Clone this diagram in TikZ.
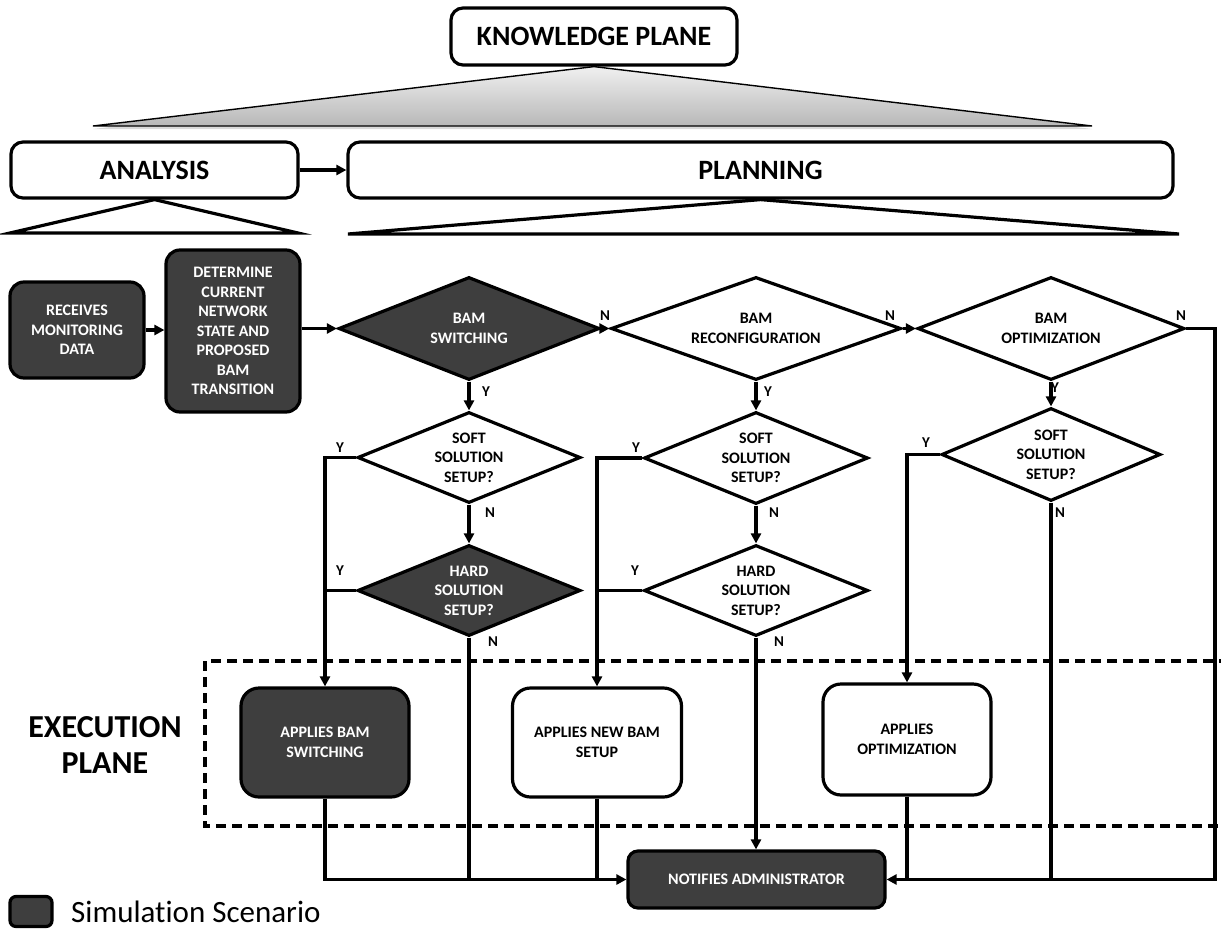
\documentclass[tikz,border=0pt]{standalone}
\usepackage{fontspec}
\setmainfont{Carlito}
\usetikzlibrary{shapes.geometric,arrows.meta,shadows,calc}
\definecolor{darkfill}{HTML}{3E3E3E}
\begin{document}
\begin{tikzpicture}[x=1pt,y=-1pt,
  lw/.style={line width=3.2pt},
  txt/.style={font=\bfseries\fontsize{16}{19.5}\selectfont, align=center},
  box/.style={draw, lw, rounded corners=14pt, rectangle, inner sep=0pt, txt},
  dbox/.style={box, fill=darkfill, text=white},
  dia/.style={draw, lw, diamond, inner sep=0pt},
  ddia/.style={dia, fill=darkfill},
  yn/.style={font=\bfseries\fontsize{15}{15}\selectfont, inner sep=0pt},
  arr/.style={lw, -{Triangle[length=10pt,width=10pt]}},
  con/.style={lw},
  big/.style={font=\bfseries\fontsize{28}{30}\selectfont}
]
\useasboundingbox (0,0) rectangle (1221,929);

% top level
\node[box, big, rounded corners=12pt, minimum width=286pt, minimum height=57pt] (know) at (594,36.5) {KNOWLEDGE PLANE};
\path[draw, line width=1.4pt, top color=black!6, bottom color=black!28,
      drop shadow={opacity=0.3, shadow xshift=0pt, shadow yshift=-3pt}]
  (know.south) -- (1092,126) -- (93,126) -- cycle;

\node[box, big, rounded corners=12pt, minimum width=287pt, minimum height=56pt] (ana) at (154.5,170) {ANALYSIS};
\node[box, big, rounded corners=12pt, minimum width=825pt, minimum height=56pt] (plan) at (760.5,170) {PLANNING};
\draw[arr] (ana) -- (plan);

\draw[lw, line join=miter] (ana.south) -- (298,233) -- (10,233) -- cycle;
\draw[lw, line join=miter] (plan.south) -- (1179,234) -- (348,234) -- cycle;

% analysis boxes
\node[dbox, minimum width=134pt, minimum height=96pt] (recv) at (77,330) {RECEIVES\\MONITORING\\DATA};
\node[dbox, minimum width=134pt, minimum height=162pt] (det) at (233,331) {DETERMINE\\CURRENT\\NETWORK\\STATE AND\\PROPOSED\\BAM\\TRANSITION};

% decisions
\node[ddia, minimum width=261pt, minimum height=103pt] (d1) at (469,328.5) {};
\node[txt, text=white] (d1t) at (d1) {BAM\\SWITCHING};
\node[dia, minimum width=290pt, minimum height=103pt] (d2) at (756,328.5) {};
\node[txt] (d2t) at (d2) {BAM\\RECONFIGURATION};
\node[dia, minimum width=267pt, minimum height=103pt] (d3) at (1051,328.5) {};
\node[txt] (d3t) at (d3) {BAM\\OPTIMIZATION};

\node[dia, minimum width=223pt, minimum height=91pt] (s1) at (469,457.5) {};
\node[txt] (s1t) at (s1) {SOFT\\SOLUTION\\SETUP?};
\node[dia, minimum width=224pt, minimum height=92pt] (s2) at (756,458) {};
\node[txt] (s2t) at (s2) {SOFT\\SOLUTION\\SETUP?};
\node[dia, minimum width=219pt, minimum height=93pt] (s3) at (1051,454.5) {};
\node[txt] (s3t) at (s3) {SOFT\\SOLUTION\\SETUP?};

\node[ddia, minimum width=223pt, minimum height=91pt] (h1) at (469,590.5) {};
\node[txt, text=white] (h1t) at (h1) {HARD\\SOLUTION\\SETUP?};
\node[dia, minimum width=224pt, minimum height=91pt] (h2) at (756,590.5) {};
\node[txt] (h2t) at (h2) {HARD\\SOLUTION\\SETUP?};

% execution plane
\draw[lw, dash pattern=on 10pt off 6pt] (205,661) rectangle (1240,826);
\node[font=\bfseries\fontsize{32}{36}\selectfont, align=center, inner sep=0pt] (exe) at (105,745) {EXECUTION\\PLANE};

\node[dbox, rounded corners=18pt, minimum width=168pt, minimum height=109pt] (a1) at (325,742.5) {APPLIES BAM\\SWITCHING};
\node[box, rounded corners=18pt, minimum width=169pt, minimum height=109pt] (a2) at (597,742.5) {APPLIES NEW BAM\\SETUP};
\node[box, rounded corners=18pt, minimum width=168pt, minimum height=111pt] (a3) at (907,739.5) {APPLIES\\OPTIMIZATION};
\node[dbox, rounded corners=10pt, minimum width=257pt, minimum height=57pt] (notif) at (756.5,879.5) {NOTIFIES ADMINISTRATOR};

% connectors
\draw[arr] (recv.east) -- (recv.east -| det.west);
\draw[arr] (det.east |- d1.west) -- (d1.west);
\draw[arr] (d1.east) -- (d2.west);
\draw[arr] (d2.east) -- (d3.west);
\coordinate (rc) at (1215,328.5);
\draw[arr] (d3.east) -- (rc) |- (notif.east);

\draw[arr] (d1.south) -- (s1.north);
\draw[arr] (s1.south) -- (h1.north);
\draw[arr] (s1.west) -| (a1.north);
\draw[con] (h1.west) -- (h1.west -| a1.north);
\draw[con] (h1.south) -- (h1.south |- notif.west);
\draw[arr] (a1.south) |- (notif.west);
\draw[con] (a2.south) -- (a2.south |- notif.west);

\draw[arr] (d2.south) -- (s2.north);
\draw[arr] (s2.south) -- (h2.north);
\draw[arr] (s2.west) -| (a2.north);
\draw[con] (h2.west) -- (h2.west -| a2.north);
\draw[arr] (h2.south) -- (h2.south |- notif.north);

\draw[arr] (d3.south) -- (s3.north);
\draw[arr] (s3.west) -| (a3.north);
\draw[con] (s3.south) -- (s3.south |- notif.east);
\draw[con] (a3.south) -- (a3.south |- notif.east);

% Y / N labels
\node[yn] (n1) at (605,316) {N};
\node[yn] (y1) at (486,392) {Y};
\node[yn] (n2) at (890,316) {N};
\node[yn] (y2) at (768,392) {Y};
\node[yn] (n3) at (1181,316) {N};
\node[yn] (y3) at (1055,388) {Y};
\node[yn] (ys1) at (340,448) {Y};
\node[yn] (ys2) at (636,448) {Y};
\node[yn] (ys3) at (926,443) {Y};
\node[yn] (ns1) at (490,513) {N};
\node[yn] (ns2) at (774,513) {N};
\node[yn] (ns3) at (1060,513) {N};
\node[yn] (yh1) at (340,571) {Y};
\node[yn] (yh2) at (635,571) {Y};
\node[yn] (nh1) at (493,642) {N};
\node[yn] (nh2) at (779,642) {N};

% legend
\node[draw, lw, fill=darkfill, rounded corners=6pt, minimum width=42pt, minimum height=30pt, inner sep=0pt] (leg) at (31,911.5) {};
\node[anchor=base west, font=\fontsize{31}{31}\selectfont\addfontfeatures{Ligatures=NoCommon}, inner sep=0pt] (legt) at (71,922) {Simulation Scenario};
\end{tikzpicture}
\end{document}
